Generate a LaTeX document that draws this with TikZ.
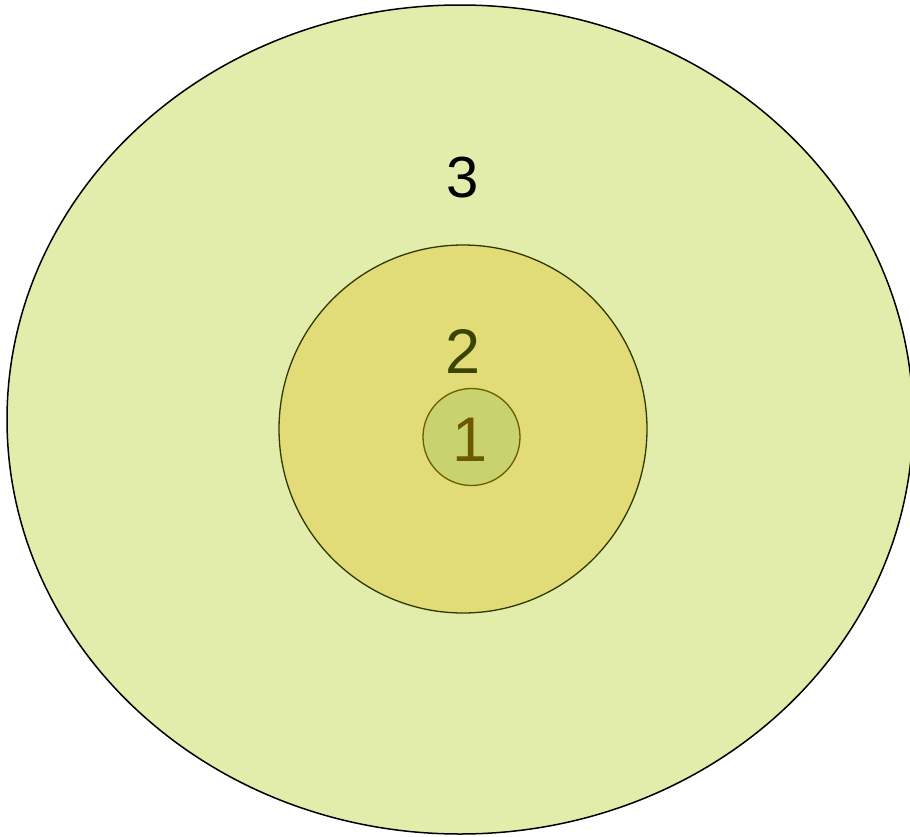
\documentclass[tikz,border=0pt]{standalone}
\usepackage{fontspec}
\setmainfont{Liberation Sans}
\definecolor{outerfill}{HTML}{E2EDAB}
\definecolor{midfill}{HTML}{E2DC78}
\definecolor{midline}{HTML}{2E3800}
\definecolor{smallfill}{HTML}{C8D26E}
\definecolor{smallline}{HTML}{6B5C00}
\definecolor{txttwo}{HTML}{3A4400}
\definecolor{txtone}{HTML}{6B5800}
\begin{document}
\begin{tikzpicture}[x=1pt,y=-1pt,
  lbl/.style={inner sep=0pt,font=\fontsize{58}{58}\selectfont},
  biglbl/.style={inner sep=0pt,font=\fontsize{63}{63}\selectfont}]
\useasboundingbox (0,0) rectangle (910,836);
\draw[fill=outerfill,line width=1.5pt] (460,419.5) ellipse [x radius=453, y radius=414.5];
\draw[fill=midfill,draw=midline,line width=1.3pt] (463,429) circle [radius=184];
\draw[fill=smallfill,draw=smallline,line width=1.3pt] (471.5,437) circle [radius=48.5];
\node[lbl,text=black] (three) at (462.5,178) {3};
\node[biglbl,text=txttwo] (two) at (463.5,351) {2};
\node[biglbl,text=txtone] (one) at (470,440) {1};
\end{tikzpicture}
\end{document}
